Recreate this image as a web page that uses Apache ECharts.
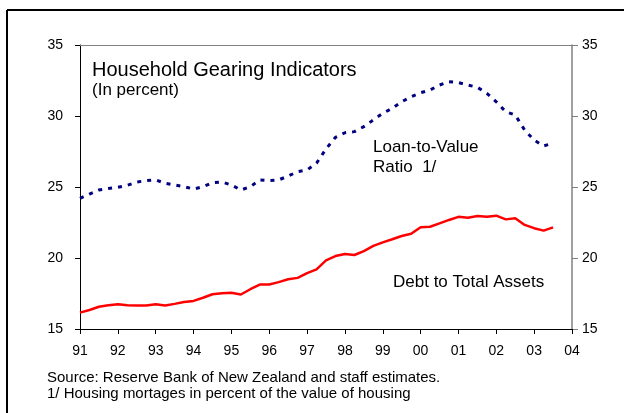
<!DOCTYPE html>
<html>
<head>
<meta charset="utf-8">
<script src="https://cdn.jsdelivr.net/npm/echarts@6/dist/echarts.min.js"></script>
<style>
  html, body { margin: 0; padding: 0; background: #fff; }
  #main { width: 624px; height: 413px; }
</style>
</head>
<body>
<div id="main"></div>
<script>
// quarterly observations, 1991Q1 - 2003Q3
var firstYear = 1991
var lastYear = 2004
var yTicks = [15, 20, 25, 30, 35]

var loanToValue = [
  24.2, 24.5, 24.79, 24.9,
  24.98, 25.12, 25.35, 25.45,
  25.5, 25.26, 25.14, 25.02,
  24.86, 25.02, 25.3, 25.35,
  25.14, 24.79, 25.02, 25.5,
  25.45, 25.5, 25.77, 26.08,
  26.2, 26.68, 27.68, 28.5,
  28.82, 28.9, 29.25, 29.72,
  30.19, 30.54, 31.0, 31.36,
  31.64, 31.83, 32.18, 32.42,
  32.35, 32.18, 32.02, 31.6,
  31.0, 30.3, 30.07, 29.0,
  28.3, 27.89, 28.08
]

var debtToAssets = [
  16.15, 16.34, 16.57, 16.67,
  16.74, 16.67, 16.65, 16.65,
  16.74, 16.65, 16.77, 16.9,
  16.98, 17.2, 17.45, 17.52,
  17.55, 17.43, 17.8, 18.13,
  18.13, 18.3, 18.5, 18.6,
  18.93, 19.2, 19.83, 20.14,
  20.28, 20.21, 20.49, 20.85,
  21.1, 21.32, 21.55, 21.71,
  22.16, 22.2, 22.44, 22.68,
  22.9, 22.84, 22.96, 22.9,
  22.98, 22.72, 22.8, 22.33,
  22.1, 21.93, 22.16
]

// quarter categories up to 2004Q1
var quarters = []
for (var y = firstYear; y <= lastYear; y++) {
  for (var q = 1; q <= 4; q++) {
    if (y === lastYear && q > 1) break
    quarters.push(y + 'Q' + q)
  }
}

var font = 'Liberation Sans, Arial, sans-serif'
var isYearStart = function (i) { return i % 4 === 0 }

var myChart = echarts.init(document.getElementById('main'))
var option = {
  animation: false,
  grid: { left: 80, right: 52, top: 45, bottom: 84 },
  xAxis: [
    {
      type: 'category',
      data: quarters,
      boundaryGap: false,
      axisLine: { lineStyle: { color: '#000', width: 1 } },
      axisTick: { interval: isYearStart, length: 5, lineStyle: { color: '#000' } },
      axisLabel: {
        interval: isYearStart,
        margin: 15,
        color: '#000',
        fontSize: 14,
        fontFamily: font,
        formatter: function (v) { return v.slice(2, 4) }
      },
      splitLine: { show: false }
    },
    {
      type: 'category',
      data: quarters,
      position: 'top',
      boundaryGap: false,
      axisLine: { lineStyle: { color: '#808080', width: 1 } },
      axisTick: { show: false },
      axisLabel: { show: false }
    }
  ],
  yAxis: [
    {
      type: 'value',
      min: yTicks[0],
      max: yTicks[yTicks.length - 1],
      interval: 5,
      axisLine: { show: true, lineStyle: { color: '#000', width: 1 } },
      axisTick: { show: true, length: 5, lineStyle: { color: '#000' } },
      axisLabel: { margin: 17, color: '#000', fontSize: 14, fontFamily: font },
      splitLine: { show: false }
    },
    {
      type: 'value',
      min: yTicks[0],
      max: yTicks[yTicks.length - 1],
      interval: 5,
      position: 'right',
      axisLine: { show: true, lineStyle: { color: '#808080', width: 1.5 } },
      axisTick: { show: true, length: 6, lineStyle: { color: '#808080' } },
      axisLabel: { margin: 10, color: '#000', fontSize: 14, fontFamily: font },
      splitLine: { show: false }
    }
  ],
  series: [
    {
      name: 'Loan-to-Value Ratio',
      type: 'line',
      data: loanToValue,
      showSymbol: false,
      lineStyle: { color: '#000080', width: 3, type: [4, 6], cap: 'butt' }
    },
    {
      name: 'Debt to Total Assets',
      type: 'line',
      data: debtToAssets,
      showSymbol: false,
      lineStyle: { color: '#ff0000', width: 2.5 }
    }
  ],
  graphic: [
    // outer frame (top and left)
    { type: 'line', shape: { x1: 7, y1: 10, x2: 624, y2: 10 }, style: { stroke: '#000', lineWidth: 2 } },
    { type: 'line', shape: { x1: 7, y1: 10, x2: 7, y2: 413 }, style: { stroke: '#000', lineWidth: 2 } },
    { type: 'text', left: 92, top: 60, style: { text: 'Household Gearing Indicators', fontSize: 20, fontFamily: font, fill: '#000' } },
    { type: 'text', left: 92, top: 82, style: { text: '(In percent)', fontSize: 17, fontFamily: font, fill: '#000' } },
    { type: 'text', left: 373, top: 137, style: { text: 'Loan-to-Value\nRatio  1/', fontSize: 17, lineHeight: 20, fontFamily: font, fill: '#000' } },
    { type: 'text', left: 393, top: 274, style: { text: 'Debt to Total Assets', fontSize: 17, fontFamily: font, fill: '#000' } },
    { type: 'text', left: 47, top: 370, style: { text: 'Source: Reserve Bank of New Zealand and staff estimates.\n1/ Housing mortages in percent of the value of housing', fontSize: 15, lineHeight: 16, fontFamily: font, fill: '#000' } }
  ]
}
myChart.setOption(option)
</script>
</body>
</html>
